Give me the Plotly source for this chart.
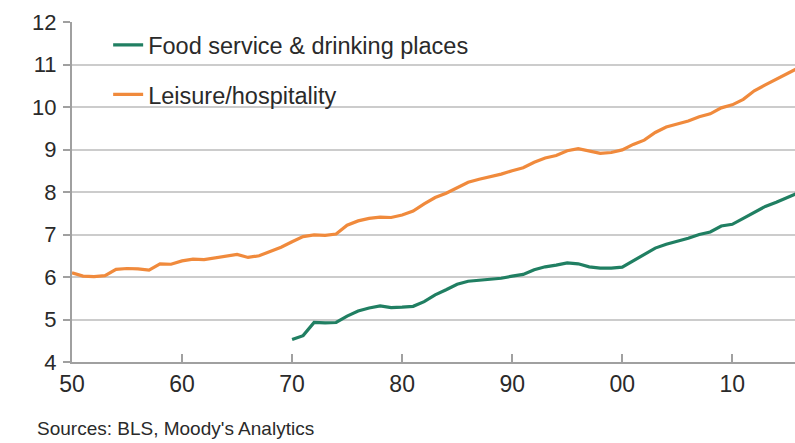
import plotly.graph_objects as go

years_leisure = list(range(1950, 2017))
leisure = [6.10, 6.02, 6.01, 6.03, 6.18, 6.20, 6.19, 6.16, 6.31, 6.30,
           6.38, 6.42, 6.41, 6.45, 6.50, 6.53, 6.46, 6.50, 6.60, 6.70,
           6.83, 6.95, 6.99, 6.98, 7.01, 7.22, 7.32, 7.38, 7.41, 7.40,
           7.46, 7.55, 7.72, 7.87, 7.97, 8.10, 8.23, 8.30, 8.36, 8.42,
           8.50, 8.57, 8.70, 8.80, 8.86, 8.97, 9.02, 8.97, 8.91, 8.93,
           8.99, 9.12, 9.22, 9.40, 9.53, 9.60, 9.67, 9.77, 9.84, 9.98,
           10.05, 10.18, 10.38, 10.52, 10.65, 10.80, 10.92]

years_food = list(range(1970, 2017))
food = [4.53, 4.62, 4.93, 4.92, 4.93, 5.08, 5.20, 5.27, 5.32, 5.28,
        5.29, 5.31, 5.42, 5.58, 5.70, 5.83, 5.90, 5.92, 5.94, 5.97,
        6.02, 6.06, 6.17, 6.24, 6.28, 6.33, 6.31, 6.24, 6.21, 6.21,
        6.23, 6.38, 6.53, 6.68, 6.77, 6.84, 6.91, 7.00, 7.06, 7.20,
        7.24, 7.38, 7.52, 7.66, 7.76, 7.88, 7.98]

x_tickvals = [1950, 1960, 1970, 1980, 1990, 2000, 2010]
x_ticktext = ["50", "60", "70", "80", "90", "00", "10"]
y_tickvals = [4, 5, 6, 7, 8, 9, 10, 11, 12]

GREEN = "#207f62"
ORANGE = "#f08a3c"
FONT = "Liberation Sans, Arial, sans-serif"
TXT = "#2a2a2a"

fig = go.Figure()
fig.add_trace(go.Scatter(x=years_food, y=food, mode="lines",
                         name="Food service & drinking places",
                         legendgroup="a",
                         line=dict(color=GREEN, width=3.2)))
fig.add_trace(go.Scatter(x=years_leisure, y=leisure, mode="lines",
                         name="Leisure/hospitality",
                         legendgroup="b",
                         line=dict(color=ORANGE, width=3.2)))

fig.update_layout(
    width=795, height=443,
    margin=dict(l=72, r=0, t=22, b=81),
    paper_bgcolor="white", plot_bgcolor="white",
    font=dict(family=FONT, color=TXT),
    showlegend=True,
    legend=dict(x=0.05, y=0.997, xanchor="left", yanchor="top",
                bgcolor="rgba(255,255,255,0)", font=dict(size=23.5, color=TXT),
                traceorder="grouped", tracegroupgap=16, itemwidth=30),
    xaxis=dict(range=[1950, 2015.7], tickvals=x_tickvals, ticktext=x_ticktext,
               showgrid=False, showline=True, linecolor="#a0a0a0", linewidth=2,
               ticks="inside", ticklen=8, tickcolor="#a0a0a0", tickwidth=2,
               tickfont=dict(size=23, color=TXT), zeroline=False,
               ticklabelstandoff=0),
    yaxis=dict(range=[4, 12], tickvals=y_tickvals,
               showgrid=True, gridcolor="#cccccc", gridwidth=2,
               showline=True, linecolor="#a0a0a0", linewidth=2,
               ticks="outside", ticklen=7, tickcolor="#a0a0a0", tickwidth=2,
               tickfont=dict(size=22, color=TXT), zeroline=False,
               ticklabelstandoff=2),
    annotations=[dict(text="Sources: BLS, Moody's Analytics", xref="paper", yref="paper",
                      x=-0.051, y=-0.197, xanchor="left", yanchor="middle",
                      showarrow=False, font=dict(size=19, color=TXT, family=FONT))],
)

fig.write_html("out.html")
